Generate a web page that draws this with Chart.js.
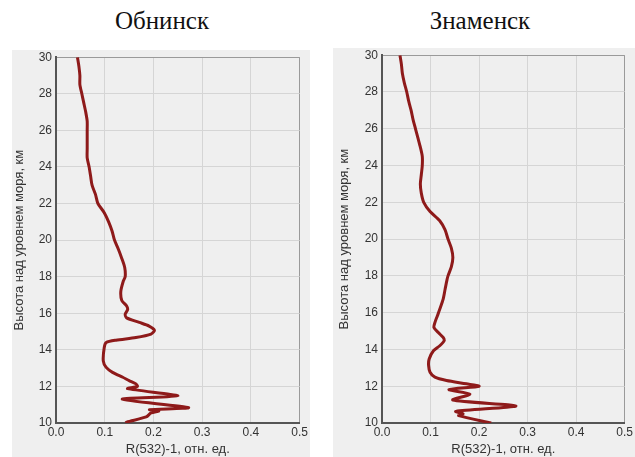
<!DOCTYPE html>
<html>
<head>
<meta charset="utf-8">
<script src="https://cdn.jsdelivr.net/npm/chart.js@4/dist/chart.umd.min.js"></script>
<style>
  body { margin: 0; background: #fff; width: 635px; height: 457px; position: relative; overflow: hidden; }
  .title { position: absolute; top: 7px; font-family: "Liberation Serif", "Times New Roman", serif; font-size: 25px; color: #111; text-align: center; width: 200px; }
  .box { position: absolute; background: #efefef; }
  .box canvas { position: absolute; left: 0; }
</style>
</head>
<body>
<div class="title" style="left:62px">Обнинск</div>
<div class="title" style="left:380px">Знаменск</div>
<div class="box" style="left:12px; top:50px; width:298px; height:407px"><canvas id="obninsk" width="298" height="411" style="top:-4px"></canvas></div>
<div class="box" style="left:333px; top:48px; width:302px; height:409px"><canvas id="znamensk" width="302" height="413" style="top:-4px"></canvas></div>
<script>
// Высоты (км) и значения R(532)-1 для Обнинска
const obninskAlt = [30, 29.5, 29, 28.5, 28, 27.5, 27, 26.5, 26, 25.5, 25, 24.5, 24, 23.5, 23, 22.5, 22, 21.5, 21, 20.5,
    20, 19.5, 19, 18.5, 18, 17.75, 17.2, 16.7, 16.4, 16.2, 15.95, 15.75, 15.5, 15.3, 15.07, 14.86, 14.67, 14.53, 14.4, 14.13,
    13.4, 13.04, 12.77, 12.5, 12.32, 12.14, 12.0, 11.88, 11.48, 11.3, 10.84, 10.73, 10.66, 10.55, 10.33, 10.05, 10.0];
const obninskVal = [0.044, 0.047, 0.049, 0.049, 0.053, 0.057, 0.061, 0.064, 0.064, 0.064, 0.064, 0.064, 0.068, 0.071, 0.074, 0.081, 0.086, 0.099, 0.108, 0.115,
    0.120, 0.128, 0.135, 0.141, 0.142, 0.138, 0.133, 0.135, 0.145, 0.147, 0.142, 0.145, 0.171, 0.191, 0.202, 0.195, 0.164, 0.123, 0.103, 0.099,
    0.097, 0.103, 0.116, 0.137, 0.150, 0.164, 0.167, 0.147, 0.250, 0.136, 0.272, 0.192, 0.211, 0.195, 0.185, 0.145, 0.143];

// Высоты (км) и значения R(532)-1 для Знаменска
const znamenskAlt = [30, 29.5, 29, 28.5, 28, 27.5, 27, 26.5, 26, 25.5, 25, 24.5, 24, 23.5, 23, 22.5, 22, 21.5, 21, 20.5,
    20, 19.5, 19, 18.5, 18, 17.8, 17.27, 16.73, 16.18, 15.82, 15.46, 15.19, 14.92, 14.65, 14.47, 14.2, 13.93, 13.47, 13.12, 12.76,
    12.49, 12.31, 12.13, 12.0, 11.82, 11.57, 11.25, 10.93, 10.63, 10.5, 10.4, 10.0];
const znamenskVal = [0.037, 0.040, 0.042, 0.046, 0.051, 0.055, 0.060, 0.064, 0.069, 0.074, 0.079, 0.083, 0.083, 0.081, 0.079, 0.081, 0.086, 0.099, 0.119, 0.130,
    0.136, 0.143, 0.146, 0.143, 0.136, 0.134, 0.130, 0.126, 0.119, 0.114, 0.109, 0.107, 0.116, 0.126, 0.128, 0.119, 0.106, 0.097, 0.096, 0.099,
    0.109, 0.133, 0.174, 0.200, 0.138, 0.181, 0.146, 0.276, 0.152, 0.167, 0.158, 0.225];

const xTicks = [0, 0.1, 0.2, 0.3, 0.4, 0.5];
const yTicks = [10, 12, 14, 16, 18, 20, 22, 24, 26, 28, 30];
const xTitle = 'R(532)-1, отн. ед.';
const yTitle = 'Высота над уровнем моря, км';

const tickFont = { family: 'Liberation Sans, Arial, sans-serif', size: 12 };
const titleFont = { family: 'Liberation Sans, Arial, sans-serif', size: 13 };

function createProfileChart(id, alts, vals, yWidth, titlePad) {
    const points = alts.map((a, i) => ({ x: vals[i], y: a }));
    new Chart(document.getElementById(id), {
        type: 'line',
        data: {
            datasets: [{
                data: points,
                borderColor: '#8e1a1a',
                borderWidth: 3,
                pointRadius: 0,
                tension: 0.25,
                fill: false
            }]
        },
        options: {
            responsive: false,
            animation: false,
            layout: { padding: 0 },
            plugins: { legend: { display: false }, tooltip: { enabled: false } },
            scales: {
                x: {
                    type: 'linear',
                    min: 0, max: 0.5,
                    afterBuildTicks: s => { s.ticks = xTicks.map(v => ({ value: v })); },
                    afterFit: s => { s.height = 34; },
                    ticks: { color: '#333', font: tickFont, padding: 2, maxRotation: 0, callback: v => v.toFixed(1) },
                    grid: { drawTicks: false, color: c => c.tick && c.tick.value === 0.5 ? '#9a9a9a' : '#d5d5d5' },
                    border: { color: '#555', width: 2 },
                    title: { display: true, text: xTitle, color: '#333', font: titleFont, padding: { top: 0, bottom: 0 } }
                },
                y: {
                    type: 'linear',
                    min: 10, max: 30,
                    afterBuildTicks: s => { s.ticks = yTicks.map(v => ({ value: v })); },
                    afterFit: s => { s.width = yWidth; },
                    ticks: { color: '#333', font: tickFont, padding: 4 },
                    grid: { drawTicks: false, color: c => c.tick && c.tick.value === 30 ? '#9a9a9a' : '#d5d5d5' },
                    border: { color: '#555', width: 2 },
                    title: { display: true, text: yTitle, color: '#333', font: titleFont, padding: { top: titlePad, bottom: 0 } }
                }
            }
        }
    });
}

createProfileChart('obninsk', obninskAlt, obninskVal, 44, 0);
createProfileChart('znamensk', znamenskAlt, znamenskVal, 49, 4);
</script>
</body>
</html>
